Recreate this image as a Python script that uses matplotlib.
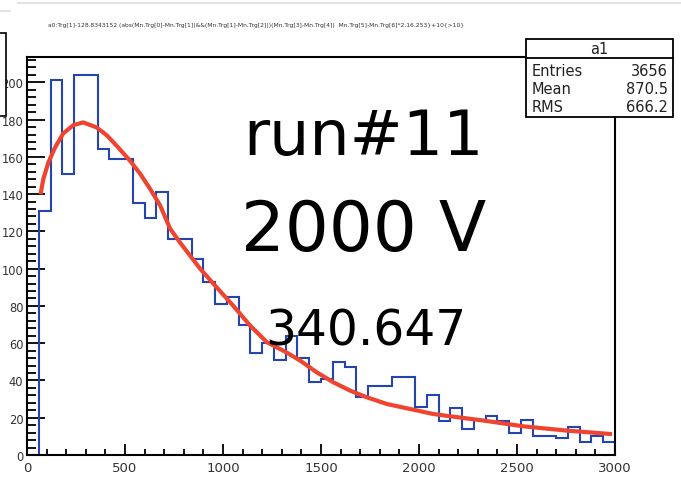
import numpy as np
import matplotlib
matplotlib.use("Agg")
import matplotlib.pyplot as plt
from matplotlib.patches import Rectangle
from matplotlib.lines import Line2D
from matplotlib.ticker import MultipleLocator

# ---------------- data ----------------
bin_low, bin_high, n_bins = 0, 3000, 50
counts = [0, 131, 201, 151, 204, 204, 164, 159, 159, 135,
          127, 141, 116, 116, 105, 93, 81, 85, 70, 55,
          60, 51, 64, 52, 39, 41, 50, 47, 31, 37,
          37, 42, 42, 26, 32, 18, 25, 14, 19, 21,
          18, 12, 19, 10, 10, 9, 15, 7, 10, 7]

fit_x = [71, 83, 109, 143, 185, 236, 287, 355, 406, 457, 525, 577, 627, 679,
         730, 781, 832, 883, 959, 1053, 1138, 1223, 1325, 1393, 1478, 1563,
         1648, 1733, 1835, 1954, 2073, 2158, 2328, 2532, 2753, 2974]
fit_y = [141, 148, 157, 165, 172.6, 177, 178.5, 175.8, 171.7, 166, 158, 151,
         143, 134, 121.5, 114, 107, 100, 91, 80, 69.5, 60.6, 55, 50.7, 44.4,
         39, 34.6, 31, 27.4, 24.7, 22, 20.8, 18.5, 15.4, 13.1, 11.3]

x_ticks = [0, 500, 1000, 1500, 2000, 2500, 3000]
y_ticks = [0, 20, 40, 60, 80, 100, 120, 140, 160, 180, 200]

hist_name = "a1"
stats_labels = ["Entries", "Mean", "RMS"]
stats_values = ["3656", "870.5", "666.2"]
title_text = ("a0:Trg[1]-128.8343152 (abs(Mn.Trg[0]-Mn.Trg[1])&&(Mn.Trg[1]-Mn.Trg[2]))"
              "(Mn.Trg[3]-Mn.Trg[4])  Mn.Trg[5]-Mn.Trg[6]*2.16.253}+10{>10}")
label_run = "run#11"
label_volt = "2000 V"
label_fit = "340.647"

# ---------------- layout ----------------
W, H = 681, 485
FONT = "DejaVu Sans"
plt.rcParams["font.family"] = [FONT]

fig = plt.figure(figsize=(W / 100, H / 100), dpi=100)
fig.patch.set_facecolor("white")


def fx(x):
    return x / W


def fy(y):
    return 1 - y / H


ax_l, ax_r, ax_t, ax_b = 27, 615, 58, 456
ax = fig.add_axes([fx(ax_l), fy(ax_b), (ax_r - ax_l) / W, (ax_b - ax_t) / H])

edges = np.linspace(bin_low, bin_high, n_bins + 1)
ax.stairs(counts, edges, color="#2345ad", lw=1.5, baseline=0, zorder=2)
ax.plot(fit_x, fit_y, color="#ef4430", lw=3.0, zorder=3, solid_joinstyle="round")

ax.set_xlim(bin_low, bin_high)
ax.set_ylim(0, 213.6)
ax.set_xticks(x_ticks)
ax.set_xticklabels([str(t) for t in x_ticks])
ax.set_yticks(y_ticks)
ax.set_yticklabels([str(t) for t in y_ticks])
ax.xaxis.set_minor_locator(MultipleLocator(100))
ax.yaxis.set_minor_locator(MultipleLocator(4))

ax.tick_params(axis="x", which="major", direction="in", length=8, width=1.3,
               pad=4.5, labelsize=9.5, labelcolor="#333333", top=False)
ax.tick_params(axis="x", which="minor", direction="in", length=4, width=1.3, top=False)
ax.tick_params(axis="y", which="major", direction="in", length=13, width=1.3,
               pad=2.6, labelsize=8.3, labelcolor="#333333", right=False)
ax.tick_params(axis="y", which="minor", direction="in", length=6.5, width=1.3, right=False)
for s in ax.spines.values():
    s.set_linewidth(1.5)
    s.set_color("black")

# title
fig.text(fx(256), fy(25), title_text, fontsize=4.3, ha="center", va="center", color="#333333")

# light top border line
fig.add_artist(Line2D([fx(18), fx(681)], [fy(4), fy(4)], color="#e3e3e3", lw=1.5))
fig.add_artist(Line2D([fx(0), fx(10)], [fy(12), fy(12)], color="#e3e3e3", lw=1.5))

# partial pad at top-left
fig.add_artist(Rectangle((fx(-5), fy(117)), (5 + 6) / W, (117 - 34) / H,
                         transform=fig.transFigure, facecolor="white",
                         edgecolor="black", lw=1.2, zorder=5))

# stats box
bx0, bx1, by0, by1, bdiv = 526, 673, 40, 118, 59
fig.add_artist(Rectangle((fx(bx0), fy(by1)), (bx1 - bx0) / W, (by1 - by0) / H,
                         transform=fig.transFigure, facecolor="white",
                         edgecolor="black", lw=1.3, zorder=5))
fig.add_artist(Line2D([fx(bx0), fx(bx1)], [fy(bdiv), fy(bdiv)], color="black", lw=1.3, zorder=6))
fig.text(fx((bx0 + bx1) / 2), fy(49.5), hist_name, fontsize=10.5, ha="center", va="center",
         color="#222222", zorder=7)
rows_y = [71, 90, 108]
for lab, val, yy in zip(stats_labels, stats_values, rows_y):
    fig.text(fx(532), fy(yy), lab, fontsize=10.5, ha="left", va="center", color="#222222", zorder=7)
    fig.text(fx(668), fy(yy), val, fontsize=10.5, ha="right", va="center", color="#222222", zorder=7)

# big annotations
fig.text(fx(243), fy(155), label_run, fontsize=45.7, ha="left", va="baseline", color="black")
fig.text(fx(241), fy(251), label_volt, fontsize=49.8, ha="left", va="baseline", color="black")
fig.text(fx(265), fy(346), label_fit, fontsize=35, ha="left", va="baseline", color="black")

fig.savefig("out.png", dpi=100)
